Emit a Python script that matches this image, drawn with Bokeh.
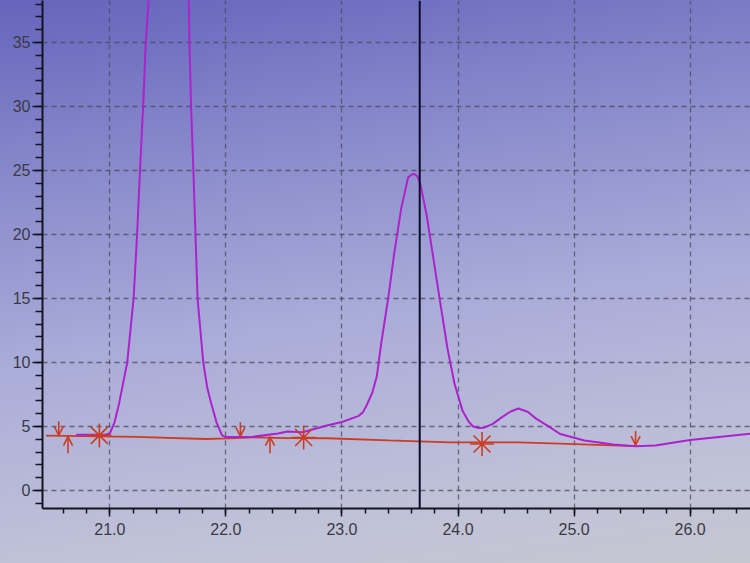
from bokeh.plotting import figure
from bokeh.models import Span, FixedTicker, Arrow, OpenHead, ColumnDataSource
from bokeh.embed import file_html
from bokeh.resources import INLINE

# chromatogram trace (retention time in min, signal)
trace_t = [20.71, 20.96, 21.00, 21.04, 21.08, 21.15, 21.205, 21.235, 21.26, 21.287, 21.31, 21.336,
           21.40, 21.46, 21.51, 21.57, 21.63, 21.68, 21.686, 21.70, 21.72, 21.738, 21.756,
           21.805, 21.84, 21.874, 21.92, 21.967, 22.00, 22.11, 22.237, 22.449, 22.53, 22.66,
           22.87, 23.00, 23.145, 23.18, 23.21, 23.26, 23.30, 23.34, 23.40, 23.45, 23.51,
           23.57, 23.60, 23.625, 23.65, 23.675, 23.73, 23.79, 23.85, 23.91, 23.97, 24.04,
           24.09, 24.13, 24.18, 24.22, 24.30, 24.37, 24.45, 24.52, 24.60, 24.67, 24.77,
           24.88, 25.09, 25.34, 25.53, 25.70, 26.00, 26.31, 26.61]
trace_y = [4.36, 4.35, 4.45, 5.3, 6.8, 10.0, 15.0, 20.0, 25.0, 30.0, 35.0, 38.5,
           50.0, 58.0, 61.0, 58.0, 48.0, 38.5, 35.0, 30.0, 25.0, 20.0, 15.0,
           10.0, 8.0, 6.8, 5.3, 4.3, 4.17, 4.17, 4.2, 4.45, 4.6, 4.55,
           5.07, 5.35, 5.83, 6.1, 6.6, 7.6, 8.9, 11.6, 15.1, 18.5, 22.0,
           24.46, 24.68, 24.73, 24.55, 23.95, 21.5, 18.0, 14.5, 11.05, 8.33, 6.2,
           5.4, 5.0, 4.88, 4.89, 5.2, 5.67, 6.15, 6.4, 6.15, 5.63, 5.06,
           4.41, 3.91, 3.59, 3.46, 3.52, 3.95, 4.24, 4.52]

# integration baseline
base_t = [20.45, 21.23, 21.82, 22.02, 22.24, 22.53, 22.87, 23.40, 23.93, 24.52, 24.88, 25.53]
base_y = [4.29, 4.18, 4.02, 4.07, 4.15, 4.09, 4.08, 3.91, 3.76, 3.75, 3.66, 3.46]

# event markers (arrow tips / centres)
down_t = [20.56, 22.125, 25.53]
down_y = [4.3, 4.22, 3.54]
up_t = [20.64, 22.38]
up_y = [4.2, 4.2]
star_t = [20.91, 22.67, 24.207]
star_y = [4.3, 4.14, 3.63]

cursor_t = 23.67
x_ticks = [21.0, 22.0, 23.0, 24.0, 25.0, 26.0]
x_minor = [round(20.4 + 0.2 * i, 1) for i in range(32)]
y_ticks = [0, 5, 10, 15, 20, 25, 30, 35]
y_minor = list(range(-1, 39))

p = figure(width=750, height=563, output_backend="svg", toolbar_location=None,
           x_range=(20.42, 26.52), y_range=(-1.41, 38.28),
           min_border_left=42, min_border_right=0, min_border_top=0, min_border_bottom=55)
p.background_fill_alpha = 0
p.border_fill_alpha = 0
p.outline_line_color = None
p.styles = {"background-image":
            "linear-gradient(172deg, #6464bc 0%, #8687ca 25%, #aaacd9 55%, #c0c2d8 85%, #c6c6d0 100%)"}

p.xaxis.ticker = FixedTicker(ticks=x_ticks, minor_ticks=x_minor)
p.yaxis.ticker = FixedTicker(ticks=y_ticks, minor_ticks=y_minor)
p.xaxis.major_label_overrides = {t: f"{t:.1f}" for t in x_ticks}
for ax in (p.xaxis, p.yaxis):
    ax.axis_line_color = "#141420"
    ax.axis_line_width = 2
    ax.major_tick_line_color = "#141420"
    ax.minor_tick_line_color = "#141420"
    ax.major_tick_line_width = 1.5
    ax.minor_tick_line_width = 1.5
    ax.major_tick_in = 0
    ax.minor_tick_in = 0
    ax.major_label_text_color = "#3a3a44"
    ax.major_label_text_font = "Liberation Sans"
    ax.major_label_text_font_size = "16px"
p.xaxis.major_tick_out = 8
p.xaxis.minor_tick_out = 5
p.yaxis.major_tick_out = 10
p.yaxis.minor_tick_out = 7
p.xaxis.major_label_standoff = 6
p.yaxis.major_label_standoff = 2

p.grid.grid_line_color = "#4a4a5a"
p.grid.grid_line_dash = "5 4"
p.grid.grid_line_alpha = 0.75
p.grid.grid_line_width = 1.3

red = "#cc3c22"
p.line(base_t, base_y, line_color=red, line_width=1.8)
p.line(trace_t, trace_y, line_color="#ac22cc", line_width=2)

p.add_layout(Span(location=cursor_t, dimension="height", line_color="#0c0c28", line_width=2))

# event arrows: tip on the baseline, stem length as a style constant
stem_down, stem_up = 1.1, 1.3
down_src = ColumnDataSource(dict(t=down_t, tip=down_y, tail=[v + stem_down for v in down_y]))
up_src = ColumnDataSource(dict(t=up_t, tip=up_y, tail=[v - stem_up for v in up_y]))
for src in (down_src, up_src):
    p.add_layout(Arrow(source=src, x_start="t", y_start="tail", x_end="t", y_end="tip",
                       line_color=red, line_width=1.6,
                       end=OpenHead(size=9, line_color=red, line_width=1.6)))
# combined events
p.scatter(star_t, star_y, marker="asterisk", size=24, line_color=red, line_width=1.6)

open("out.html", "w").write(file_html(p, INLINE))
